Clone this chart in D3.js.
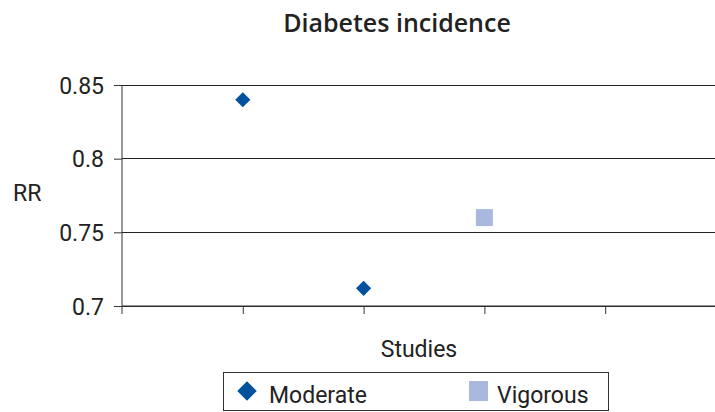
<!DOCTYPE html>
<html><head><meta charset="utf-8">
<script src="https://cdn.jsdelivr.net/npm/d3@7"></script>
<style>body{margin:0;background:#fff}svg{display:block}text{font-family:Roboto,sans-serif;fill:#222}</style>
</head><body><svg id="c" width="715" height="412"></svg>
<script>
const title = "Diabetes incidence";
const yTicks = [0.7, 0.75, 0.8, 0.85];
const xTicks = [1, 2, 3, 4];
const moderateX = [1, 2];
const moderateY = [0.84, 0.712];
const vigorousX = [3];
const vigorousY = [0.76];
const seriesNames = ["Moderate", "Vigorous"];

const svg = d3.select("#c");
const x = d3.scaleLinear().domain([0, 5]).range([122, 726]);
const y = d3.scaleLinear().domain([0.7, 0.85]).range([306, 85]);

svg.append("g").selectAll("line").data(yTicks).join("line")
  .attr("x1", 122).attr("x2", 715).attr("y1", d => y(d)).attr("y2", d => y(d))
  .attr("stroke", "#222").attr("stroke-width", 1).attr("shape-rendering", "crispEdges");

const ya = svg.append("g").attr("transform", "translate(122,0)")
  .call(d3.axisLeft(y).tickValues(yTicks).tickSize(8).tickPadding(10).tickFormat(d => String(d)));
ya.select(".domain").attr("stroke", "#333").attr("d", "M0," + y(0.85) + "V" + (y(0.7) + 8));
ya.selectAll(".tick line").attr("stroke", "#333");
ya.selectAll("text").style("font-size", "23px").style("font-family", "Roboto").attr("fill", "#222").attr("dy", "0.36em");

const xa = svg.append("g").attr("transform", "translate(0," + y(0.7) + ")")
  .call(d3.axisBottom(x).tickValues(xTicks).tickSize(8).tickFormat(""));
xa.select(".domain").attr("stroke", "#333").attr("d", "M122,0H715");
xa.selectAll(".tick line").attr("stroke", "#333");

svg.append("g").selectAll("path").data(moderateX.map((d, i) => [d, moderateY[i]])).join("path")
  .attr("transform", d => "translate(" + x(d[0]) + "," + y(d[1]) + ") rotate(45)")
  .attr("d", d3.symbol().type(d3.symbolSquare).size(115)())
  .attr("fill", "#00529F");
svg.append("g").selectAll("rect").data(vigorousX.map((d, i) => [d, vigorousY[i]])).join("rect")
  .attr("x", d => x(d[0]) - 8.5).attr("y", d => y(d[1]) - 8.5)
  .attr("width", 17).attr("height", 17).attr("fill", "#AAB8DE");

svg.append("text").attr("x", 397).attr("y", 32).attr("text-anchor", "middle")
  .style("font-family", "'Open Sans', sans-serif")
  .style("font-size", "25px").style("font-weight", "600").text(title);
svg.append("text").attr("x", 13).attr("y", 201).style("font-size", "23px").text("RR");
svg.append("text").attr("x", 419).attr("y", 357).attr("text-anchor", "middle")
  .style("font-size", "23px").text("Studies");

const lg = svg.append("g");
lg.append("rect").attr("x", 223.5).attr("y", 372.5).attr("width", 385).attr("height", 38)
  .attr("fill", "#fff").attr("stroke", "#333").attr("stroke-width", 1);
lg.append("path").attr("transform", "translate(247,391) rotate(45)")
  .attr("d", d3.symbol().type(d3.symbolSquare).size(190)()).attr("fill", "#00529F");
lg.append("text").attr("x", 269).attr("y", 403).style("font-size", "23px").text(seriesNames[0]);
lg.append("rect").attr("x", 469).attr("y", 381).attr("width", 19).attr("height", 20).attr("fill", "#AAB8DE");
lg.append("text").attr("x", 497).attr("y", 403).style("font-size", "23px").text(seriesNames[1]);
</script></body></html>
